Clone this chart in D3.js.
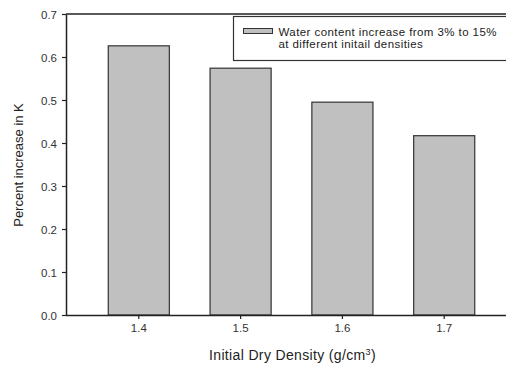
<!DOCTYPE html>
<html>
<head>
<meta charset="utf-8">
<script src="https://cdn.jsdelivr.net/npm/d3@7"></script>
<style>
  html, body { margin: 0; padding: 0; background: #fff; }
  svg { display: block; font-family: "Liberation Sans", Arial, sans-serif; }
</style>
</head>
<body>
<svg id="chart" width="506" height="366"></svg>
<script>
// Initial dry density categories and the percent increase in K for each
const densities = ["1.4", "1.5", "1.6", "1.7"];
const percentIncrease = [0.626, 0.574, 0.495, 0.417];
const yTicks = [0.0, 0.1, 0.2, 0.3, 0.4, 0.5, 0.6, 0.7];
const legendLines = ["Water content increase from 3% to 15%", "at different initail densities"];

const svg = d3.select("#chart");
const plotLeft = 66, plotTop = 14, plotBottom = 315, plotRight = 517;

const x = d3.scaleBand()
  .domain(densities)
  .range([plotLeft, plotRight])
  .paddingInner(0.4)
  .paddingOuter(0.415);

const y = d3.scaleLinear()
  .domain([0, 0.7])
  .range([plotBottom, plotTop]);

const ink = "#222";

// bars
svg.append("g")
  .selectAll("rect")
  .data(densities.map((d, i) => ({ d, v: percentIncrease[i] })))
  .join("rect")
  .attr("x", d => x(d.d))
  .attr("y", d => y(d.v))
  .attr("width", x.bandwidth())
  .attr("height", d => y(0) - y(d.v))
  .attr("fill", "#c0c0c0")
  .attr("stroke", "#333")
  .attr("stroke-width", 1.2);

// top frame line
svg.append("line")
  .attr("x1", plotLeft).attr("x2", 506)
  .attr("y1", plotTop).attr("y2", plotTop)
  .attr("stroke", ink).attr("stroke-width", 1.5);

// y axis
const yAxis = svg.append("g")
  .attr("transform", `translate(${plotLeft},0)`)
  .call(d3.axisLeft(y).tickValues(yTicks).tickFormat(d3.format(".1f")).tickSize(4).tickSizeOuter(0));

// x axis
const xAxis = svg.append("g")
  .attr("transform", `translate(0,${plotBottom})`)
  .call(d3.axisBottom(x).tickSize(4).tickSizeOuter(0));
xAxis.select(".domain").attr("d", `M${plotLeft},0.5H506`);

[yAxis, xAxis].forEach(g => {
  g.select(".domain").attr("stroke", ink).attr("stroke-width", 1.5);
  g.selectAll(".tick line").attr("stroke", ink).attr("stroke-width", 1.2);
  g.selectAll(".tick text")
    .attr("fill", "#333")
    .style("font-size", "11.5px")
    .style("font-family", "'Liberation Sans', Arial, sans-serif");
});
yAxis.selectAll(".tick text").attr("x", -9).attr("dy", "0.4em");
xAxis.selectAll(".tick text").attr("y", 9);

// axis titles
svg.append("text")
  .attr("transform", `translate(23,${(plotTop + plotBottom) / 2 + 0.5}) rotate(-90)`)
  .attr("text-anchor", "middle")
  .attr("fill", "#222")
  .style("font-size", "13px")
  .text("Percent increase in K");

const xt = svg.append("text")
  .attr("x", 292.5)
  .attr("y", 359.5)
  .attr("text-anchor", "middle")
  .attr("fill", "#222")
  .style("font-size", "14px")
  .style("letter-spacing", "0.35px");
xt.append("tspan").text("Initial Dry Density (g/cm");
xt.append("tspan").attr("dy", -5).style("font-size", "9px").text("3");
xt.append("tspan").attr("dy", 5).text(")");

// legend
const lg = svg.append("g");
lg.append("rect")
  .attr("x", 233.5).attr("y", 16.5)
  .attr("width", 290).attr("height", 44)
  .attr("fill", "#fff")
  .attr("stroke", "#333").attr("stroke-width", 1.2);
lg.append("rect")
  .attr("x", 243.5).attr("y", 28.5)
  .attr("width", 29).attr("height", 5)
  .attr("fill", "#c0c0c0")
  .attr("stroke", "#333").attr("stroke-width", 1);
lg.selectAll("text.lgl")
  .data(legendLines)
  .join("text")
  .attr("class", "lgl")
  .attr("x", 278.5)
  .attr("y", (d, i) => 36 + i * 12)
  .attr("fill", "#222")
  .style("font-size", "11.5px")
  .style("letter-spacing", "0.42px")
  .text(d => d);
</script>
</body>
</html>
